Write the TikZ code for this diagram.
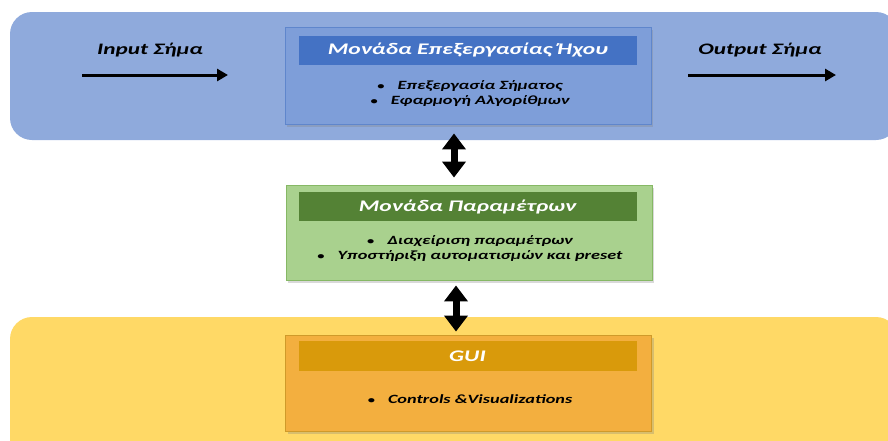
\documentclass[tikz,border=0pt]{standalone}
\usepackage{fontspec}
\setmainfont{Carlito}[FakeStretch=1.45]
\usetikzlibrary{arrows.meta,shadows}
\definecolor{bandblue}{HTML}{8FAADC}
\definecolor{boxblue}{HTML}{7E9ED9}
\definecolor{lineblue}{HTML}{5F86CC}
\definecolor{headblue}{HTML}{4472C4}
\definecolor{boxgreen}{HTML}{A9D18E}
\definecolor{linegreen}{HTML}{86B865}
\definecolor{headgreen}{HTML}{548235}
\definecolor{bandyellow}{HTML}{FFD966}
\definecolor{boxorange}{HTML}{F3AF3F}
\definecolor{lineorange}{HTML}{CF9A2A}
\definecolor{headorange}{HTML}{D99A0B}
\tikzset{
  band/.style={rounded corners=22pt},
  unitbox/.style={draw=#1, line width=0.9pt, minimum width=366pt, inner sep=0pt,
    drop shadow={opacity=0.3, shadow xshift=2pt, shadow yshift=-2.5pt}},
  headbox/.style={fill=#1, minimum width=338pt, minimum height=29pt, inner sep=0pt,
    text=white, font=\fontsize{16.2}{18}\selectfont\bfseries\itshape},
  bodytext/.style={align=center, inner sep=0pt, text=black,
    font=\fontsize{12.6}{15}\selectfont\bfseries\itshape},
  sigtext/.style={inner sep=0pt, font=\fontsize{16}{18}\selectfont\bfseries\itshape},
  sigarrow/.style={line width=3pt, -{Triangle[length=11pt,width=12pt]}},
  dblarrow/.style={line width=7pt, {Triangle[length=16pt,width=23pt]}-{Triangle[length=16pt,width=23pt]}}
}
\newcommand{\bul}{{\fontsize{10}{10}\selectfont\upshape\textbullet}\hspace{13pt}}
\begin{document}
\begin{tikzpicture}[x=1pt,y=-1pt]
\useasboundingbox (0,0) rectangle (888,440);
\clip (0,0) rectangle (888,440);
% bands
\fill[bandblue, band] (10,12) rectangle (898,140);
\fill[bandyellow, band] (10,317) rectangle (898,470);
% boxes
\node[unitbox=lineblue, fill=boxblue, minimum height=97pt] (audio) at (468,75.5) {};
\node[headbox=headblue] (audiohead) at (468,50.5) {Μονάδα Επεξεργασίας Ήχου};
\node[bodytext] (audiotext) at (470,93) {\bul Επεξεργασία Σήματος\\ \bul Εφαρμογή Αλγορίθμων};

\node[unitbox=linegreen, fill=boxgreen, minimum height=95pt] (param) at (469,232.5) {};
\node[headbox=headgreen] (paramhead) at (467.5,206.5) {Μονάδα Παραμέτρων};
\node[bodytext] (paramtext) at (470,248.5) {\bul Διαχείριση παραμέτρων\\ \bul Υποστήριξη αυτοματισμών και preset};

\node[unitbox=lineorange, fill=boxorange, minimum height=96pt] (gui) at (468.5,383) {};
\node[headbox=headorange, minimum height=30pt] (guihead) at (467.5,356) {GUI};
\node[bodytext] (guitext) at (470,399) {\bul Controls \&Visualizations};

% signal labels and arrows
\node[sigtext] (inlabel) at (150,50) {Input Σήμα};
\coordinate (ins) at (82,75);
\coordinate (ine) at (228,75);
\draw[sigarrow] (ins) -- (ine);
\node[sigtext] (outlabel) at (760,50) {Output Σήμα};
\coordinate (outs) at (688,75);
\coordinate (oute) at (836,75);
\draw[sigarrow] (outs) -- (oute);

% double arrows between units
\coordinate (a1t) at ([xshift=-14pt,yshift=-9pt]audio.south);
\coordinate (a1b) at ([xshift=-15pt,yshift=7pt]param.north);
\draw[dblarrow] (a1t) -- (a1b);
\coordinate (a2t) at ([xshift=-13pt,yshift=-5pt]param.south);
\coordinate (a2b) at ([xshift=-12.5pt,yshift=3pt]gui.north);
\draw[dblarrow] (a2t) -- (a2b);
\end{tikzpicture}
\end{document}
